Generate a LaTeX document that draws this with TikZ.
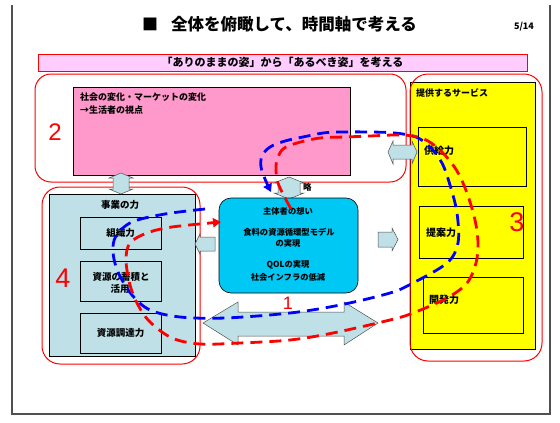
\documentclass[tikz,border=0pt]{standalone}
\usepackage{fontspec}
\setmainfont{Noto Sans CJK JP}
\newfontfamily\numfont{Liberation Sans}
\usetikzlibrary{arrows.meta}
\definecolor{lb}{RGB}{190,224,230}
\definecolor{cy}{RGB}{0,200,245}
\definecolor{pk}{RGB}{255,153,204}
\definecolor{bn}{RGB}{255,204,255}
\definecolor{ye}{RGB}{255,255,0}
\definecolor{ag}{RGB}{80,80,80}
\begin{document}
\begin{tikzpicture}[x=1pt,y=-1pt,
  box/.style={draw=black,line width=0.6pt,inner sep=0pt,outer sep=0pt,anchor=north west},
  redbox/.style={draw=red,line width=1pt,rounded corners=16pt,inner sep=0pt,outer sep=0pt,anchor=north west},
  arrshape/.style={fill=lb,draw=ag,line width=0.5pt},
  lbl/.style={font=\fontsize{9.5}{11}\selectfont\bfseries,inner sep=0pt},
  clbl/.style={font=\fontsize{8.3}{10}\selectfont\bfseries,inner sep=0pt},
  num/.style={font=\numfont,text=red,inner sep=0pt},
  dsh/.style={line width=2.8pt,dash pattern=on 12pt off 7pt}]
\useasboundingbox (0,0) rectangle (560,423);
% frame
\draw[ag,line width=1.3pt] (12,5) -- (12,414) -- (550,414) -- (550,5);
% title
\node[font=\fontsize{16}{18}\selectfont\bfseries,inner sep=0pt] (sq) at (150,24) {■};
\node[font=\fontsize{16.5}{18}\selectfont\bfseries,inner sep=0pt,anchor=west] (title) at (171,24) {全体を俯瞰して、時間軸で考える};
\node[font=\fontsize{9}{10}\selectfont\bfseries,inner sep=0pt] (page) at (524,27) {5/14};
% banner
\node[box,draw=red,line width=1pt,fill=bn,minimum width=489pt,minimum height=17pt] (banner) at (38,54) {};
\node[font=\fontsize{11}{12}\selectfont\bfseries,inner sep=0pt] (bantext) at (banner.center) {「ありのままの姿」から「あるべき姿」を考える};
% box 2
\node[redbox,minimum width=371pt,minimum height=108pt] (r2) at (35,74) {};
\node[box,fill=pk,minimum width=277pt,minimum height=88pt] (pink) at (73,87) {};
\node[lbl,font=\fontsize{9}{11}\selectfont\bfseries,anchor=west] (pt1) at (80,97) {社会の変化・マーケットの変化};
\node[lbl,font=\fontsize{9}{11}\selectfont\bfseries,anchor=west] (pt2) at (80,110) {→生活者の視点};
% box 4
\node[box,fill=lb,minimum width=146pt,minimum height=162pt] (biz) at (49,194) {};
\node[redbox,rounded corners=18pt,minimum width=158pt,minimum height=177pt] (r4) at (42,187) {};
\node[lbl] (bizt) at (120,205) {事業の力};
\node[box,minimum width=81pt,minimum height=32pt] (org) at (80,217) {};
\node[lbl] at (org.center) {組織力};
\node[box,minimum width=81pt,minimum height=40pt] (res) at (80,261) {};
\node[lbl] (res1) at (121,277) {資源の蓄積と};
\node[lbl] (res2) at (120,289) {活用};
\node[box,minimum width=81pt,minimum height=40pt] (proc) at (80,313) {};
\node[lbl] at (proc.center) {資源調達力};
% box 3
\node[box,fill=ye,minimum width=125pt,minimum height=267pt] (yel) at (410,82) {};
\node[redbox,rounded corners=18pt,minimum width=132pt,minimum height=287pt] (r3) at (410,74) {};
\node[lbl,font=\fontsize{9}{11}\selectfont\bfseries,anchor=west] (svc) at (416,93) {提供するサービス};
\node[box,minimum width=108pt,minimum height=59pt] (sup) at (418,127) {};
\node[lbl,font=\fontsize{10}{11}\selectfont\bfseries,anchor=west] at (424,151) {供給力};
\node[box,minimum width=104pt,minimum height=52pt] (prop) at (419,206) {};
\node[lbl,font=\fontsize{10}{11}\selectfont\bfseries,anchor=west] at (426,233) {提案力};
\node[box,minimum width=100pt,minimum height=56pt] (dev) at (423,277) {};
\node[lbl,font=\fontsize{10}{11}\selectfont\bfseries,anchor=west] at (429,300) {開発力};
% arrows
\draw[arrshape] (121,173) -- (133,178) -- (129,178) -- (129,189) -- (133,189) -- (121,194) -- (109,189) -- (113,189) -- (113,178) -- (109,178) -- cycle;
\draw[arrshape] (289,177) -- (304,183) -- (300,183) -- (300,193) -- (304,193) -- (289,199) -- (274,193) -- (278,193) -- (278,183) -- (274,183) -- cycle;
\node[lbl,font=\fontsize{8.5}{10}\selectfont\bfseries,anchor=west] (ryaku) at (303,187) {略};
\draw[arrshape] (215,237) -- (200,237) -- (200,234) -- (195,244) -- (200,254) -- (200,251) -- (215,251) -- cycle;
\draw[arrshape] (378,232) -- (392,232) -- (392,228) -- (398,239.5) -- (392,251) -- (392,247) -- (378,247) -- cycle;
\draw[arrshape] (388,152) -- (393,141) -- (393,145) -- (412,145) -- (412,141) -- (417,152) -- (412,164) -- (412,159) -- (393,159) -- (393,164) -- cycle;
\draw[arrshape] (203,323) -- (238,302) -- (238,312) -- (344,312) -- (344,302) -- (378,323) -- (344,345) -- (344,336) -- (238,336) -- (238,345) -- cycle;
% center box
\node[box,fill=cy,rounded corners=12pt,minimum width=139pt,minimum height=95pt] (core) at (219,198) {};
\node[clbl] (c1) at (288,211) {主体者の想い};
\node[clbl] (c2) at (289,232) {食料の資源循環型モデル};
\node[clbl] (c3) at (288,243) {の実現};
\node[clbl] (c4) at (288,265) {QOLの実現};
\node[clbl] (c5) at (288,277) {社会インフラの低減};
% numbers
\node[num,font=\numfont\fontsize{24}{26}\selectfont] (n2) at (55,132) {2};
\node[num,font=\numfont\fontsize{27}{29}\selectfont] (n3) at (517,222) {3};
\node[num,font=\numfont\fontsize{27}{29}\selectfont] (n4) at (63,278) {4};
\node[num,font=\numfont\fontsize{18}{20}\selectfont] (n1) at (288,303) {1};
% dashed loops
\draw[dsh,blue,-{Triangle[length=8pt,width=9pt]}] plot[smooth,tension=0.55] coordinates {
 (205,209) (165,214) (132,222) (116,236) (113,252) (118,272) (132,295) (150,310) (180,317) (225,318) (290,313) (340,305) (390,293) (413,283) (447,263) (458,243) (457,213) (450,185) (442,163) (430,147) (416,137) (395,133) (370,132) (340,132) (323,133) (303,137) (285,141) (270,147) (262,156) (261,167) (265,179) (271,192)};
\draw[dsh,red,-{Triangle[length=8pt,width=9pt]}] plot[smooth,tension=0.55] coordinates {
 (291,209) (284,196) (278,183) (276,171) (277,160) (283,149) (297,143) (320,138) (345,137) (370,136) (395,135) (413,136) (428,141) (443,153) (457,171) (467,193) (475,220) (478,243) (476,263) (467,283) (447,298) (413,313) (390,320) (333,333) (290,340) (240,343) (200,344) (172,338) (150,322) (138,305) (130,285) (126,260) (130,243) (147,233) (172,227) (221,222)};
\end{tikzpicture}
\end{document}
